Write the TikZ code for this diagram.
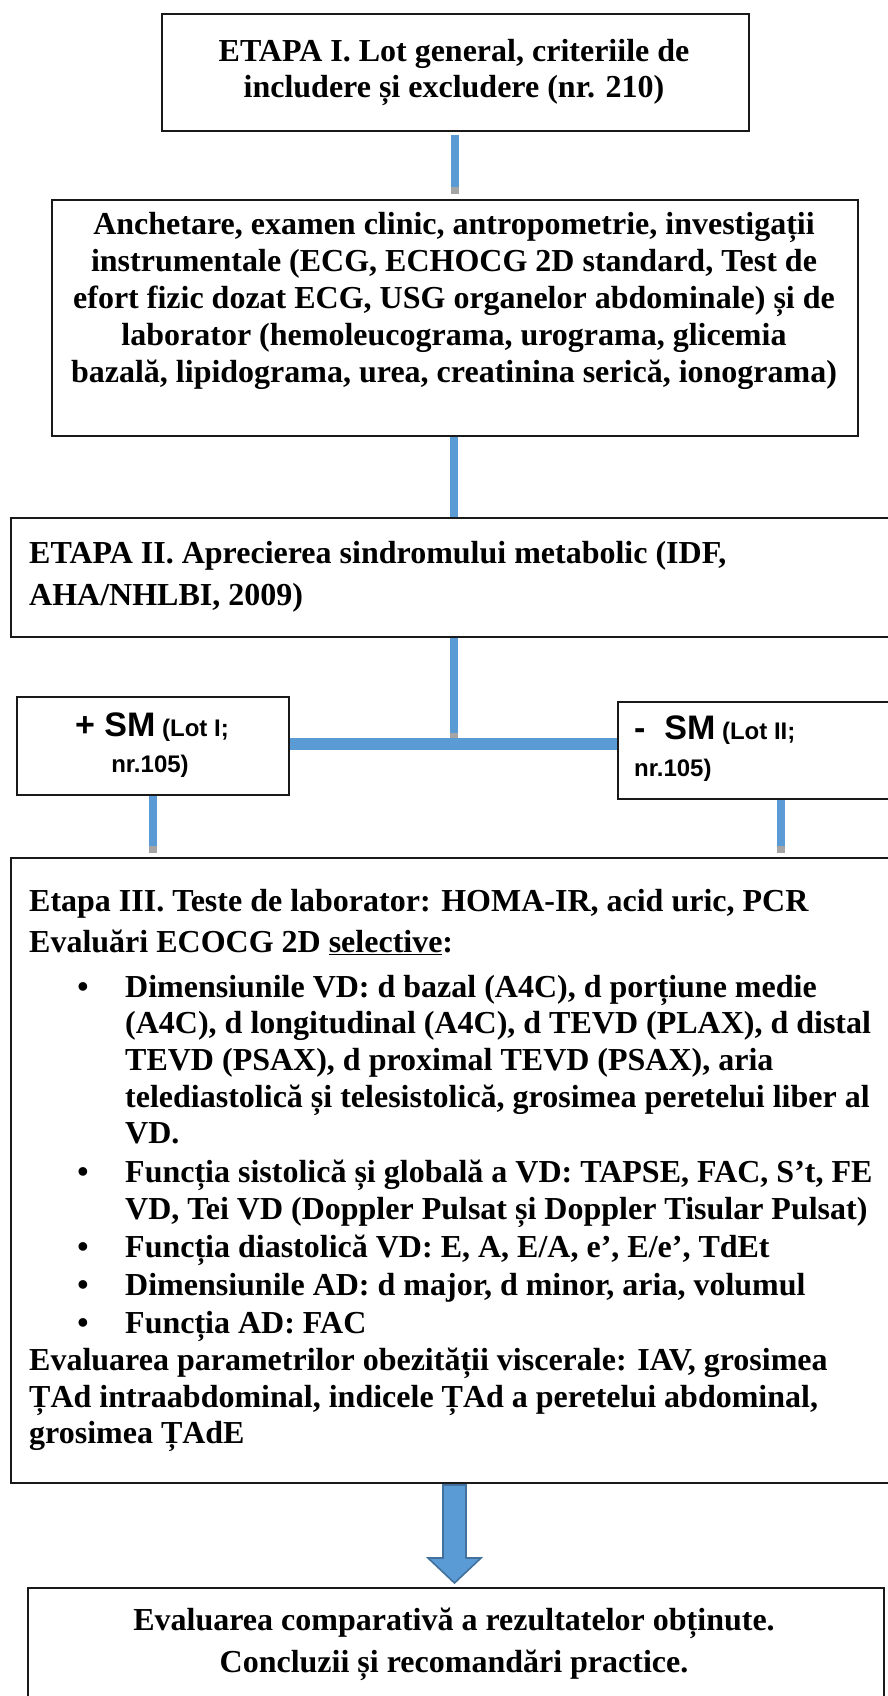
\documentclass[tikz,border=0pt]{standalone}
\usepackage{fontspec}
\setmainfont{Liberation Serif}
\newfontfamily\arialf{Liberation Sans}
\definecolor{cblue}{HTML}{5B9BD5}
\definecolor{cdark}{HTML}{41719C}
\definecolor{cgrey}{HTML}{A5A5A5}
\tikzset{
  box/.style={draw=black!90, line width=1.7pt, inner sep=0pt, anchor=north west},
  ln/.style={inner sep=0pt, font=\fontsize{32}{37}\selectfont\bfseries},
  lc/.style={ln, anchor=base},
  ll/.style={ln, anchor=base west},
  bul/.style={ln, anchor=base},
  sm/.style={inner sep=0pt, font=\arialf\bfseries\fontsize{24}{29}\selectfont},
  conn/.style={draw=cblue, line width=8pt},
  bar/.style={draw=cblue, line width=12pt},
  tip/.style={draw=cgrey, line width=8pt},
  barrow/.style={fill=cblue, draw=cdark, line width=1.6pt, line join=miter},
}
\newcommand{\bigsm}[1]{{\arialf\bfseries\fontsize{34}{38}\selectfont #1}}
\begin{document}
\begin{tikzpicture}[x=1pt,y=-1pt]
\useasboundingbox (0,0) rectangle (887,1696);
% boxes
\node[box, minimum width=587pt, minimum height=117pt] (b1) at (161,13) {};
\node[box, minimum width=806pt, minimum height=236pt] (b2) at (51,199) {};
\node[box, minimum width=900pt, minimum height=119pt] (b3) at (10,517) {};
\node[box, minimum width=272pt, minimum height=98pt] (smp) at (16,696) {};
\node[box, minimum width=326pt, minimum height=97pt] (smm) at (617,701) {};
\node[box, minimum width=900pt, minimum height=625pt] (b4) at (10,857) {};
\node[box, minimum width=856pt, minimum height=140pt] (b5) at (27,1587) {};
\coordinate (j) at (454,744);
% connectors
\draw[conn, shorten <=3pt, shorten >=5pt] (b1.south) -- (b1.south |- b2.north);
\draw[tip] ([yshift=12pt]b1.south |- b2.north) -- ([yshift=5pt]b1.south |- b2.north);
\draw[conn] (j |- b2.south) -- (j |- b3.north);
\draw[conn, shorten >=6pt] (j |- b3.south) -- (j);
\draw[tip] ([yshift=11pt]j) -- ([yshift=6pt]j);
\draw[bar] (j -| smp.east) -- (j -| smm.west);
\draw[conn, shorten >=4pt] (smp.south) -- (smp.south |- b4.north);
\draw[tip] ([yshift=11pt]smp.south |- b4.north) -- ([yshift=4pt]smp.south |- b4.north);
\draw[conn, shorten >=4pt] (smm.south) -- (smm.south |- b4.north);
\draw[tip] ([yshift=11pt]smm.south |- b4.north) -- ([yshift=4pt]smm.south |- b4.north);
% block arrow
\draw[barrow] (443,1485) -- (466,1485) -- (466,1558) -- (481,1558) -- (454.5,1583) -- (428,1558) -- (443,1558) -- cycle;
% box 1 text
\node[lc] (t1a) at (454,62) {ETAPA I. Lot general, criteriile de};
\node[lc] (t1b) at (454,98) {includere și excludere (nr. 210)};
% box 2 text
\node[lc] (t2a) at (454,235) {Anchetare, examen clinic, antropometrie, investigații};
\node[lc] (t2b) at (454,272) {instrumentale (ECG, ECHOCG 2D standard, Test de};
\node[lc] (t2c) at (454,308) {efort fizic dozat ECG, USG organelor abdominale) și de};
\node[lc] (t2d) at (454,345) {laborator (hemoleucograma, urograma, glicemia};
\node[lc] (t2e) at (454,382) {bazală, lipidograma, urea, creatinina serică, ionograma)};
% box 3 text
\node[ll] (t3a) at (29,563) {ETAPA II. Aprecierea sindromului metabolic (IDF,};
\node[ll] (t3b) at (29,605) {AHA/NHLBI, 2009)};
% SM boxes
\node[sm, anchor=base] (tpa) at (152,736) {\bigsm{+ SM} (Lot I;};
\node[sm, anchor=base] (tpb) at (150,772) {nr.105)};
\node[sm, anchor=base west] (tma) at (634,739) {\bigsm{-\ \ SM} (Lot II;};
\node[sm, anchor=base west] (tmb) at (634,776) {nr.105)};
% box 4 text
\node[ll] (t4a) at (29,911) {Etapa III. Teste de laborator: HOMA-IR, acid uric, PCR};
\node[ll] (t4b) at (29,952) {Evaluări ECOCG 2D \underline{selective}:};
\node[bul] (u1) at (83,997) {•};
\node[ll] (t4c) at (125,997) {Dimensiunile VD: d bazal (A4C), d porțiune medie};
\node[ll] (t4d) at (125,1033) {(A4C), d longitudinal (A4C), d TEVD (PLAX), d distal};
\node[ll] (t4e) at (125,1070) {TEVD (PSAX), d proximal TEVD (PSAX), aria};
\node[ll] (t4f) at (125,1107) {telediastolică și telesistolică, grosimea peretelui liber al};
\node[ll] (t4g) at (125,1143) {VD.};
\node[bul] (u2) at (83,1182) {•};
\node[ll] (t4h) at (125,1182) {Funcția sistolică și globală a VD: TAPSE, FAC, S’t, FE};
\node[ll] (t4i) at (125,1219) {VD, Tei VD (Doppler Pulsat și Doppler Tisular Pulsat)};
\node[bul] (u3) at (83,1257) {•};
\node[ll] (t4j) at (125,1257) {Funcția diastolică VD: E, A, E/A, e’, E/e’, TdEt};
\node[bul] (u4) at (83,1295) {•};
\node[ll] (t4k) at (125,1295) {Dimensiunile AD: d major, d minor, aria, volumul};
\node[bul] (u5) at (83,1333) {•};
\node[ll] (t4l) at (125,1333) {Funcția AD: FAC};
\node[ll] (t4m) at (29,1370) {Evaluarea parametrilor obezității viscerale: IAV, grosimea};
\node[ll] (t4n) at (29,1407) {ȚAd intraabdominal, indicele ȚAd a peretelui abdominal,};
\node[ll] (t4o) at (29,1443) {grosimea ȚAdE};
% box 5 text
\node[lc] (t5a) at (454,1630) {Evaluarea comparativă a rezultatelor obținute.};
\node[lc] (t5b) at (454,1672) {Concluzii și recomandări practice.};
\end{tikzpicture}
\end{document}
